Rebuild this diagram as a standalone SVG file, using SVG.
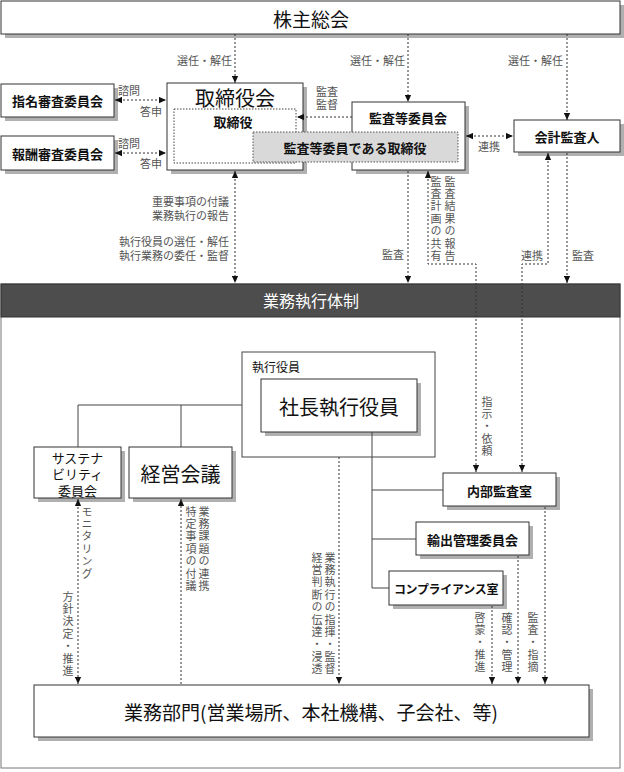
<svg xmlns="http://www.w3.org/2000/svg" width="624" height="772" viewBox="0 0 624 772">
<defs>
<style>
.box{fill:#fff;stroke:#333;stroke-width:1}
.sh{fill:#b0b0b0}
.t{font-family:"Noto Sans CJK JP","Noto Sans",sans-serif;fill:#111;text-anchor:middle;dominant-baseline:central}
.b{font-weight:bold;font-size:13px}
.lbl{font-family:"Noto Sans CJK JP","Noto Sans",sans-serif;font-size:11px;fill:#555}
.h{dominant-baseline:central}
.v{writing-mode:vertical-rl;letter-spacing:1.4px}
.dash{fill:none;stroke:#333;stroke-width:1;stroke-dasharray:2 2}
.dot{fill:none;stroke:#444;stroke-width:1;stroke-dasharray:1.5 1.5}
.solid{fill:none;stroke:#444;stroke-width:1}
</style>
<marker id="ah" viewBox="0 0 10 10" refX="10" refY="5" markerWidth="7" markerHeight="7" markerUnits="userSpaceOnUse" orient="auto-start-reverse">
<path d="M0,0.5 L10,5 L0,9.5 z" fill="#111"/>
</marker>
</defs>
<rect width="624" height="772" fill="#fff"/>

<g id="frame">
<rect x="1" y="284" width="619" height="484" fill="none" stroke="#777" stroke-width="1"/>
</g>

<g id="n-shareholders">
<rect class="sh" x="5" y="5" width="619" height="33"/>
<rect class="box" x="1" y="1" width="619" height="33"/>
<text class="t" x="311" y="18" font-size="19">株主総会</text>
</g>

<g id="n-nomination">
<rect class="sh" x="5" y="88" width="113" height="33"/>
<rect class="box" x="1" y="84" width="113" height="33"/>
<text class="t b" x="57.5" y="100.5">指名審査委員会</text>
</g>

<g id="n-remuneration">
<rect class="sh" x="5" y="140" width="113" height="34"/>
<rect class="box" x="1" y="136" width="113" height="34"/>
<text class="t b" x="57.5" y="153">報酬審査委員会</text>
</g>

<g id="n-board">
<rect class="sh" x="171" y="87" width="136" height="87"/>
<rect class="box" x="167" y="83" width="136" height="87"/>
<text class="t" x="235" y="97" font-size="20">取締役会</text>
<rect class="dot" x="174" y="109" width="122" height="54"/>
<text class="t b" x="233" y="121">取締役</text>
</g>

<g id="n-auditcommittee">
<rect class="sh" x="356" y="106" width="113" height="68"/>
<rect class="box" x="352" y="102" width="113" height="68"/>
<text class="t b" x="408" y="117">監査等委員会</text>
</g>

<g id="n-auditdirectors">
<rect x="253" y="132" width="205" height="30" fill="#d9d9d9" stroke="#555" stroke-width="1" stroke-dasharray="1.5 1.5"/>
<text class="t b" x="355" y="147">監査等委員である取締役</text>
</g>

<g id="n-accountant">
<rect class="sh" x="518" y="124" width="106" height="32"/>
<rect class="box" x="514" y="120" width="106" height="32"/>
<text class="t b" x="567" y="136">会計監査人</text>
</g>

<g id="n-execband">
<rect x="1" y="284" width="619" height="33" fill="#4d4d4d" stroke="#333" stroke-width="1"/>
<text class="t" x="311" y="300" font-size="16" style="fill:#fff">業務執行体制</text>
</g>

<g id="n-officers">
<rect x="242" y="352" width="193" height="105" fill="#fff" stroke="#444" stroke-width="1"/>
<text class="t" x="252" y="366" font-size="12" style="text-anchor:start">執行役員</text>
</g>

<g id="n-president">
<rect class="sh" x="265" y="383" width="156" height="53"/>
<rect class="box" x="261" y="379" width="156" height="53"/>
<text class="t" x="339" y="406" font-size="20">社長執行役員</text>
</g>

<g id="n-sustainability">
<rect class="sh" x="38" y="451" width="87" height="51"/>
<rect class="box" x="34" y="447" width="87" height="51"/>
<text class="t" x="77.5" y="457" font-size="13">サステナ</text>
<text class="t" x="77.5" y="473.5" font-size="13">ビリティ</text>
<text class="t" x="77.5" y="490" font-size="13">委員会</text>
</g>

<g id="n-management">
<rect class="sh" x="133" y="451" width="103" height="51"/>
<rect class="box" x="129" y="447" width="103" height="51"/>
<text class="t" x="180.5" y="473" font-size="20">経営会議</text>
</g>

<g id="n-internalaudit">
<rect class="sh" x="447" y="477" width="113" height="33"/>
<rect class="box" x="443" y="473" width="113" height="33"/>
<text class="t b" x="499.5" y="490">内部監査室</text>
</g>

<g id="n-export">
<rect class="sh" x="420" y="526" width="113" height="33"/>
<rect class="box" x="416" y="522" width="113" height="33"/>
<text class="t b" x="472.5" y="539">輸出管理委員会</text>
</g>

<g id="n-compliance">
<rect class="sh" x="393" y="575" width="114" height="34"/>
<rect class="box" x="389" y="571" width="114" height="34"/>
<text class="t b" x="446" y="588" style="font-size:12px;letter-spacing:-0.3px">コンプライアンス室</text>
</g>

<g id="n-business">
<rect class="sh" x="38" y="689" width="555" height="52"/>
<rect class="box" x="34" y="685" width="555" height="52"/>
<text class="t" x="311" y="711" font-size="19">業務部門(営業場所、本社機構、子会社、等)</text>
</g>

<g id="connectors">
<path class="dash" d="M235,34 V83" marker-end="url(#ah)"/>
<path class="dash" d="M408,34 V102" marker-end="url(#ah)"/>
<path class="dash" d="M567,34 V120" marker-end="url(#ah)"/>
<path class="dash" d="M115,100 H166" marker-start="url(#ah)" marker-end="url(#ah)"/>
<path class="dash" d="M115,153 H166" marker-start="url(#ah)" marker-end="url(#ah)"/>
<path class="dash" d="M352,117 H297" marker-end="url(#ah)"/>
<path class="dash" d="M466,136 H513" marker-start="url(#ah)" marker-end="url(#ah)"/>
<path class="dash" d="M235,171 V283" marker-start="url(#ah)" marker-end="url(#ah)"/>
<path class="dash" d="M408,171 V283" marker-end="url(#ah)"/>
<path class="dash" d="M428,171 V264 H476 V472" marker-start="url(#ah)" marker-end="url(#ah)"/>
<path class="dash" d="M548,153 V264 H522 V472" marker-start="url(#ah)" marker-end="url(#ah)"/>
<path class="dash" d="M567,153 V283" marker-end="url(#ah)"/>
<path class="solid" d="M78,447 V405 H242 M181,447 V405"/>
<path class="solid" d="M372,432 V588 H389 M372,490 H443 M372,539 H416"/>
<path class="dash" d="M339,457 V684" marker-end="url(#ah)"/>
<path class="dash" d="M78,499 V684" marker-start="url(#ah)" marker-end="url(#ah)"/>
<path class="dash" d="M181,684 V499" marker-end="url(#ah)"/>
<path class="dash" d="M492,606 V684" marker-end="url(#ah)"/>
<path class="dash" d="M518,556 V684" marker-end="url(#ah)"/>
<path class="dash" d="M545,507 V684" marker-end="url(#ah)"/>
</g>

<g id="labels">
<text class="lbl h" x="232" y="60" text-anchor="end">選任・解任</text>
<text class="lbl h" x="405" y="60" text-anchor="end">選任・解任</text>
<text class="lbl h" x="563" y="60" text-anchor="end">選任・解任</text>
<text class="lbl h" x="118" y="90">諮問</text>
<text class="lbl h" x="162" y="111" text-anchor="end">答申</text>
<text class="lbl h" x="118" y="143">諮問</text>
<text class="lbl h" x="162" y="163" text-anchor="end">答申</text>
<text class="lbl h" x="327" y="91" text-anchor="middle">監査</text>
<text class="lbl h" x="327" y="104" text-anchor="middle">監督</text>
<text class="lbl h" x="489" y="146" text-anchor="middle">連携</text>
<text class="lbl h" x="229" y="201" text-anchor="end">重要事項の付議</text>
<text class="lbl h" x="229" y="215" text-anchor="end">業務執行の報告</text>
<text class="lbl h" x="229" y="241" text-anchor="end">執行役員の選任・解任</text>
<text class="lbl h" x="229" y="255" text-anchor="end">執行業務の委任・監督</text>
<text class="lbl h" x="404" y="254" text-anchor="end">監査</text>
<text class="lbl h" x="532" y="255" text-anchor="middle">連携</text>
<text class="lbl h" x="583" y="255" text-anchor="middle">監査</text>
<text class="lbl v" x="450" y="176">監査結果の報告</text>
<text class="lbl v" x="436" y="176">監査計画の共有</text>
<text class="lbl v" x="487" y="396">指示・依頼</text>
<text class="lbl v" x="87" y="506">モニタリング</text>
<text class="lbl v" x="68" y="591">方針決定・推進</text>
<text class="lbl v" x="204" y="506">業務課題の連携</text>
<text class="lbl v" x="191" y="506">特定事項の付議</text>
<text class="lbl v" x="330" y="552">業務執行の指揮・監督</text>
<text class="lbl v" x="317" y="552">経営判断の伝達・浸透</text>
<text class="lbl v" x="480" y="612">啓蒙・推進</text>
<text class="lbl v" x="507" y="612">確認・管理</text>
<text class="lbl v" x="533" y="612">監査・指摘</text>
</g>
</svg>
